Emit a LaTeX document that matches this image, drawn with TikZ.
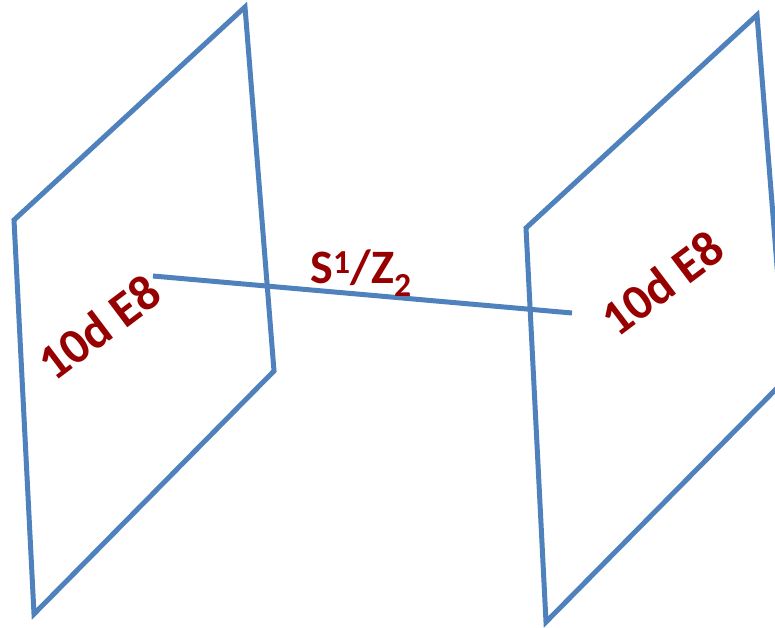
\documentclass[tikz,border=0pt]{standalone}
\usepackage{fontspec}
\setmainfont{Carlito}
\definecolor{planeblue}{RGB}{79,129,189}
\definecolor{labelred}{RGB}{150,0,0}
\tikzset{
  plane/.style={draw=planeblue, line width=5pt, line join=miter},
  link/.style={draw=planeblue, line width=5pt},
  branelabel/.style={text=labelred, font=\fontsize{50}{54}\selectfont\bfseries, inner sep=0pt, rotate=37},
  intlabel/.style={text=labelred, font=\fontsize{48}{52}\selectfont\bfseries, inner sep=0pt}
}
\begin{document}
\begin{tikzpicture}[x=1pt,y=-1pt]
\useasboundingbox (0,0) rectangle (775,628);
\clip (0,0) rectangle (775,628);
% left plane
\coordinate (a1) at (14,220);
\coordinate (a2) at (245,7);
\coordinate (a3) at (274,371);
\coordinate (a4) at (34,614);
% right plane (translated copy)
\coordinate (b1) at (526,228);
\coordinate (b2) at (757,15);
\coordinate (b3) at (786,379);
\coordinate (b4) at (546,622);
% interval ends
\coordinate (l) at (153,276);
\coordinate (r) at (572,313);
\draw[plane] (a1) -- (a2) -- (a3) -- (a4) -- cycle;
\draw[plane] (b1) -- (b2) -- (b3) -- (b4) -- cycle;
\draw[link] (l) -- (r);
\node[branelabel] (lab1) at (99,327) {10d E8};
\node[branelabel] (lab2) at (662,283) {10d E8};
\node[intlabel, anchor=base] (lab3) at (361,283) {S\textsuperscript{1}/Z\textsubscript{2}};
\end{tikzpicture}
\end{document}
